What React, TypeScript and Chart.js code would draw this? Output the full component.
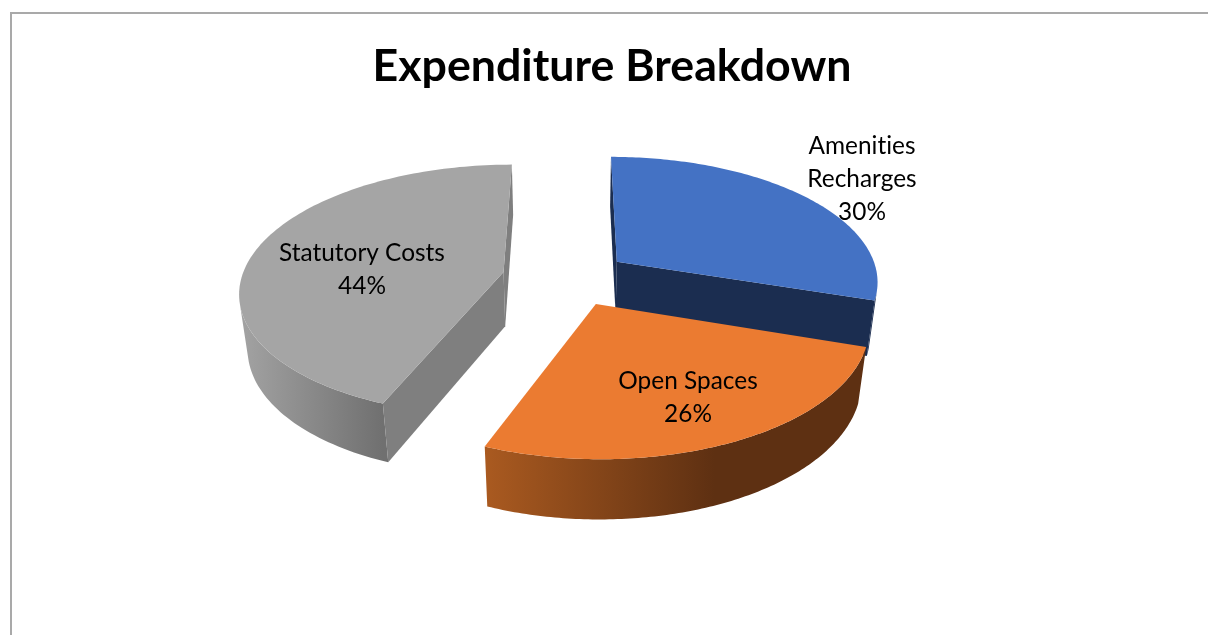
import React, { useEffect, useRef } from "react";
import { Chart, registerables } from "chart.js";

Chart.register(...registerables);

const categories = ["Amenities Recharges", "Open Spaces", "Statutory Costs"];
const shares = [30, 26, 44];
const explode = [45, 45, 52];
const labelLines = [["Amenities", "Recharges", "30%"], ["Open Spaces", "26%"], ["Statutory Costs", "44%"]];
const topColors = ["#4472c4", "#eb7b31", "#a5a5a5"];
const radialWallColors = ["#1b2d50", "#5e3012", "#7f7f7f"];
const rimGradients = [
  ["#1b2d50", "#1b2d50"],
  ["#aa5a20", "#5e3012"],
  ["#a3a3a3", "#707070"],
];
const labelAnchors = [[862, 146], [688, 381], [362, 253]];

// scene parameters of the tilted 3-D view
const VIEW = { cx: 570, cy: 278, k: 0.475, p: 0.00055, q: 0.00046, R: 262, depth: 56 };

function project(u: number, v: number, z: number): [number, number] {
  const w = 1 - VIEW.p * v + VIEW.q * z;
  return [VIEW.cx + u / w, VIEW.cy + (VIEW.k * v + z) / w];
}

function polygon(ctx: CanvasRenderingContext2D, pts: [number, number][]) {
  ctx.beginPath();
  pts.forEach((p, i) => (i ? ctx.lineTo(p[0], p[1]) : ctx.moveTo(p[0], p[1])));
  ctx.closePath();
}

function area(pts: [number, number][]) {
  let s = 0;
  for (let i = 0; i < pts.length; i++) {
    const a = pts[i];
    const b = pts[(i + 1) % pts.length];
    s += a[0] * b[1] - b[0] * a[1];
  }
  return s / 2;
}

const pie3d = {
  id: "pie3d",
  beforeDatasetsDraw(chart: any) {
    const ctx: CanvasRenderingContext2D = chart.ctx;
    const arcs = chart.getDatasetMeta(0).data;
    const order = [2, 0, 1];
    ctx.save();
    order.forEach((i) => {
      const el = arcs[i];
      const scale = VIEW.R / el.outerRadius;
      const off = el.options.offset * scale;
      const a0 = el.startAngle;
      const a1 = el.endAngle;
      const mid = (a0 + a1) / 2;
      const ax = Math.cos(mid) * off;
      const ay = Math.sin(mid) * off;
      const rim = (a: number): [number, number] => [ax + Math.cos(a) * VIEW.R, ay + Math.sin(a) * VIEW.R];
      const steps = 120;
      const rimPts: [number, number][] = [];
      for (let s = 0; s <= steps; s++) rimPts.push(rim(a0 + ((a1 - a0) * s) / steps));

      // curved outer wall: only the stretch that faces the viewer
      const upper: [number, number][] = [];
      const lower: [number, number][] = [];
      for (let s = 0; s < steps; s++) {
        const q: [number, number][] = [
          project(rimPts[s][0], rimPts[s][1], 0),
          project(rimPts[s + 1][0], rimPts[s + 1][1], 0),
          project(rimPts[s + 1][0], rimPts[s + 1][1], VIEW.depth),
          project(rimPts[s][0], rimPts[s][1], VIEW.depth),
        ];
        if (area(q) < 0) {
          if (!upper.length) {
            upper.push(q[0]);
            lower.push(q[3]);
          }
          upper.push(q[1]);
          lower.push(q[2]);
        }
      }
      if (upper.length) {
        const xs = upper.map((p) => p[0]);
        const x0 = Math.min(...xs);
        const x1 = i === 1 ? x0 + 230 : Math.max(...xs);
        const g = ctx.createLinearGradient(x0, 0, x1, 0);
        g.addColorStop(0, rimGradients[i][0]);
        g.addColorStop(1, rimGradients[i][1]);
        polygon(ctx, [...upper, ...lower.reverse()]);
        ctx.fillStyle = g;
        ctx.fill();
      }

      // flat radial walls
      ctx.fillStyle = radialWallColors[i];
      [
        { p: rim(a0), sign: -1 },
        { p: rim(a1), sign: 1 },
      ].forEach(({ p, sign }) => {
        const q: [number, number][] = [
          project(ax, ay, 0),
          project(p[0], p[1], 0),
          project(p[0], p[1], VIEW.depth),
          project(ax, ay, VIEW.depth),
        ];
        if (area(q) * sign > 0) {
          polygon(ctx, q);
          ctx.fill();
        }
      });

      // top face
      const top: [number, number][] = [project(ax, ay, 0), ...rimPts.map((p) => project(p[0], p[1], 0))];
      polygon(ctx, top);
      ctx.fillStyle = topColors[i];
      ctx.fill();
    });

    ctx.fillStyle = "#000";
    ctx.font = "24.4px Lato";
    (ctx as any).letterSpacing = "0.01px";
    ctx.textAlign = "center";
    ctx.textBaseline = "middle";
    labelLines.forEach((lines, i) => {
      lines.forEach((t, j) => ctx.fillText(t, labelAnchors[i][0], labelAnchors[i][1] + j * 33));
    });
    ctx.restore();
    return false;
  },
};

export default function App() {
  const ref = useRef<HTMLCanvasElement>(null);
  useEffect(() => {
    const chart = new Chart(ref.current!, {
      type: "pie",
      data: {
        labels: categories,
        datasets: [
          {
            data: shares,
            backgroundColor: topColors,
            borderWidth: 0,
            offset: explode,
          },
        ],
      },
      options: {
        responsive: false,
        animation: false,
        radius: 200,
        layout: { padding: { left: 16 } },
        plugins: {
          legend: { display: false },
          tooltip: { enabled: false },
          title: {
            display: true,
            text: "Expenditure Breakdown",
            color: "#000",
            font: { family: "Lato", size: 44.7, weight: "bold" },
            padding: { top: 40, bottom: 10 },
          },
        },
      } as any,
      plugins: [pie3d],
    });
    return () => chart.destroy();
  }, []);
  return (
    <div style={{ position: "fixed", inset: 0, background: "#fff", overflow: "hidden" }}>
      <div
        style={{
          position: "absolute",
          left: 10,
          top: 12,
          width: 1300,
          height: 800,
          border: "2px solid #a9a9a9",
          boxSizing: "border-box",
        }}
      />
      <canvas ref={ref} width={1208} height={635} style={{ position: "absolute", left: 0, top: 0, display: "block" }} />
    </div>
  );
}
